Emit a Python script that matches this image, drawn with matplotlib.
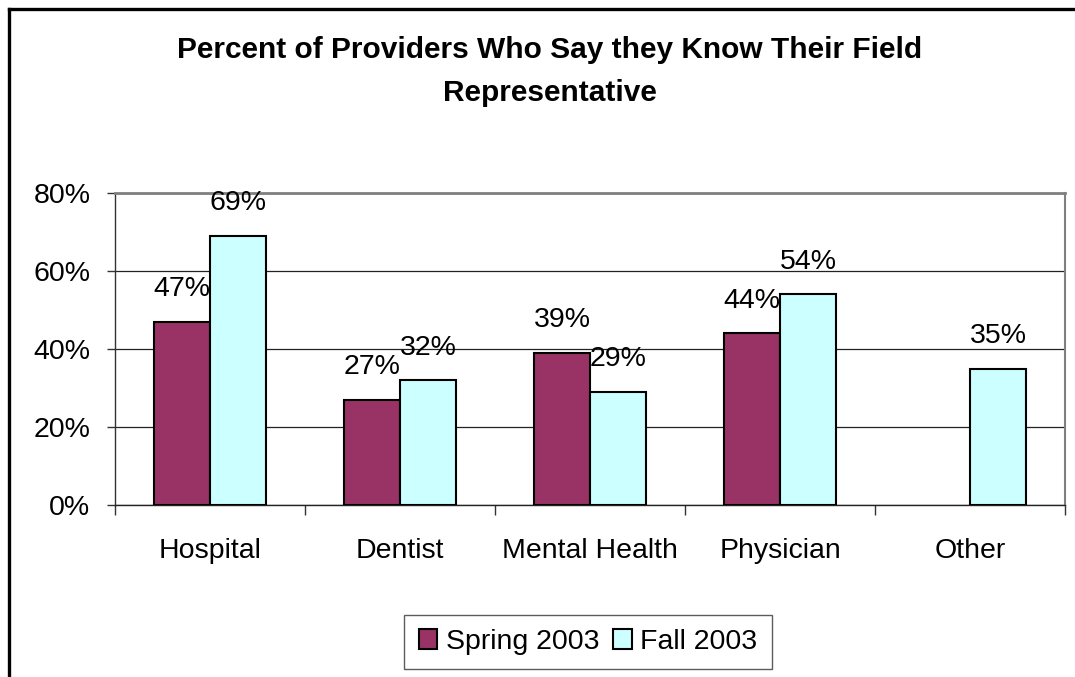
import numpy as np
import matplotlib
matplotlib.use("Agg")
import matplotlib.pyplot as plt
from matplotlib.lines import Line2D
from matplotlib.ticker import FuncFormatter, FixedLocator

plt.rcParams['font.family'] = ['Liberation Sans', 'DejaVu Sans']

categories = ["Hospital", "Dentist", "Mental Health", "Physician", "Other"]
spring_2003 = [47, 27, 39, 44, np.nan]
fall_2003 = [69, 32, 29, 54, 35]
yticks = [0, 20, 40, 60, 80]

spring_color = "#993366"
fall_color = "#CCFFFF"
fs = 20.5

fig = plt.figure(figsize=(10.75, 6.77), dpi=100)
ax = fig.add_axes([115 / 1075, 1 - 505 / 677, 950 / 1075, 312 / 677])

x = np.arange(len(categories))
w = 0.295

for vals, off, col, name in [(spring_2003, -w / 2, spring_color, "Spring 2003"),
                             (fall_2003, w / 2, fall_color, "Fall 2003")]:
    ax.bar(x + off, vals, width=w, color=col, edgecolor="black",
           linewidth=1.5, zorder=3, label=name)
    for xi, v in zip(x + off, vals):
        if np.isnan(v):
            continue
        ax.annotate(f"{v:.0f}%", (xi, v), xytext=(0, 14), textcoords="offset points",
                    ha="center", va="bottom", fontsize=fs, zorder=4)

ax.set_xlim(-0.5, len(categories) - 0.5)
ax.set_ylim(0, 80)
ax.set_yticks(yticks)
ax.yaxis.set_major_formatter(FuncFormatter(lambda v, p: f"{v:.0f}%"))
ax.tick_params(axis="y", length=5.8, width=1, color="#333333", pad=12, labelsize=fs, direction="out")

ax.set_xticks(x)
ax.set_xticklabels(categories)
ax.tick_params(axis="x", which="major", length=0, pad=24, labelsize=fs)
ax.xaxis.set_minor_locator(FixedLocator(np.arange(-0.5, len(categories), 1.0)))
ax.tick_params(axis="x", which="minor", length=7.2, width=1, color="#333333", direction="out")

ax.grid(axis="y", color="#222222", linewidth=0.9, zorder=0)
ax.set_axisbelow(True)
ax.spines["top"].set_color("#808080")
ax.spines["top"].set_linewidth(2)
ax.spines["right"].set_color("#808080")
ax.spines["right"].set_linewidth(1.5)
ax.spines["left"].set_color("#333333")
ax.spines["left"].set_linewidth(1)
ax.spines["bottom"].set_color("#222222")
ax.spines["bottom"].set_linewidth(1)

fig.text(550 / 1075, 1 - 36 / 677,
         "Percent of Providers Who Say they Know Their Field\nRepresentative",
         ha="center", va="top", fontsize=21.5, fontweight="bold", linespacing=1.68)

leg = fig.legend(loc="center", bbox_to_anchor=(588 / 1075, 1 - 642 / 677), ncol=2,
                 fontsize=fs, frameon=True, fancybox=False, handlelength=0.65,
                 handleheight=0.65, handletextpad=0.3, columnspacing=0.5,
                 borderpad=0.5, borderaxespad=0)
leg.get_frame().set_edgecolor("#333333")
leg.get_frame().set_linewidth(1)
for h in leg.legend_handles:
    h.set_linewidth(1.5)

# outer chart border (left and top edges)
fig.add_artist(Line2D([9 / 1075, 9 / 1075], [0, 1 - 9 / 677], transform=fig.transFigure,
                      color="black", linewidth=2.4, solid_capstyle="projecting"))
fig.add_artist(Line2D([9 / 1075, 1], [1 - 9 / 677, 1 - 9 / 677], transform=fig.transFigure,
                      color="black", linewidth=2.4, solid_capstyle="projecting"))

fig.savefig("out.png", dpi=100, facecolor="white")
